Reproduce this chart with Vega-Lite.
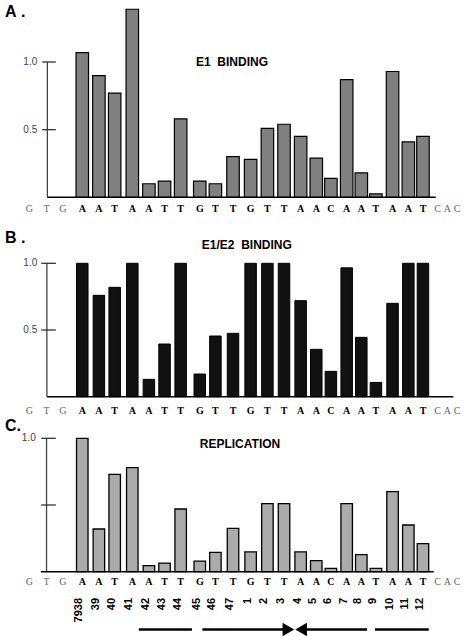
{
  "$schema": "https://vega.github.io/schema/vega-lite/v6.json",
  "padding": 0,
  "spacing": 0,
  "bounds": "flush",
  "config": {"view": {"stroke": null}, "text": {"font": "Liberation Sans"}},
  "datasets": {
    "seq": [
      {"pos": 0.87, "base": "G", "core": false, "site": null, "e1": null, "e1e2": null, "rep": null},
      {"pos": 1.90, "base": "T", "core": false, "site": null, "e1": null, "e1e2": null, "rep": null},
      {"pos": 2.88, "base": "G", "core": false, "site": null, "e1": null, "e1e2": null, "rep": null},
      {"pos": 4.05, "base": "A", "core": true, "site": "7938", "e1": 1.07, "e1e2": 1.0, "rep": 1.0},
      {"pos": 5.05, "base": "A", "core": true, "site": "39", "e1": 0.90, "e1e2": 0.76, "rep": 0.32},
      {"pos": 6.00, "base": "T", "core": true, "site": "40", "e1": 0.77, "e1e2": 0.82, "rep": 0.73},
      {"pos": 7.06, "base": "A", "core": true, "site": "41", "e1": 1.39, "e1e2": 1.0, "rep": 0.78},
      {"pos": 8.06, "base": "A", "core": true, "site": "42", "e1": 0.10, "e1e2": 0.13, "rep": 0.045},
      {"pos": 9.00, "base": "T", "core": true, "site": "43", "e1": 0.12, "e1e2": 0.395, "rep": 0.065},
      {"pos": 9.97, "base": "T", "core": true, "site": "44", "e1": 0.58, "e1e2": 1.0, "rep": 0.47},
      {"pos": 11.12, "base": "G", "core": true, "site": "45", "e1": 0.12, "e1e2": 0.17, "rep": 0.08},
      {"pos": 12.06, "base": "T", "core": true, "site": "46", "e1": 0.10, "e1e2": 0.455, "rep": 0.145},
      {"pos": 13.12, "base": "T", "core": true, "site": "47", "e1": 0.30, "e1e2": 0.475, "rep": 0.325},
      {"pos": 14.18, "base": "G", "core": true, "site": "1", "e1": 0.28, "e1e2": 1.0, "rep": 0.148},
      {"pos": 15.19, "base": "T", "core": true, "site": "2", "e1": 0.51, "e1e2": 1.0, "rep": 0.51},
      {"pos": 16.19, "base": "T", "core": true, "site": "3", "e1": 0.54, "e1e2": 1.0, "rep": 0.51},
      {"pos": 17.19, "base": "A", "core": true, "site": "4", "e1": 0.45, "e1e2": 0.72, "rep": 0.148},
      {"pos": 18.13, "base": "A", "core": true, "site": "5", "e1": 0.29, "e1e2": 0.355, "rep": 0.083},
      {"pos": 19.01, "base": "C", "core": true, "site": "6", "e1": 0.14, "e1e2": 0.19, "rep": 0.025},
      {"pos": 19.96, "base": "A", "core": true, "site": "7", "e1": 0.87, "e1e2": 0.966, "rep": 0.51},
      {"pos": 20.84, "base": "A", "core": true, "site": "8", "e1": 0.18, "e1e2": 0.445, "rep": 0.128},
      {"pos": 21.72, "base": "T", "core": true, "site": "9", "e1": 0.025, "e1e2": 0.107, "rep": 0.025},
      {"pos": 22.72, "base": "A", "core": true, "site": "10", "e1": 0.93, "e1e2": 0.70, "rep": 0.60},
      {"pos": 23.67, "base": "A", "core": true, "site": "11", "e1": 0.41, "e1e2": 1.0, "rep": 0.35},
      {"pos": 24.55, "base": "T", "core": true, "site": "12", "e1": 0.45, "e1e2": 1.0, "rep": 0.21},
      {"pos": 25.43, "base": "C", "core": false, "site": null, "e1": null, "e1e2": null, "rep": null},
      {"pos": 26.02, "base": "A", "core": false, "site": null, "e1": null, "e1e2": null, "rep": null},
      {"pos": 26.61, "base": "C", "core": false, "site": null, "e1": null, "e1e2": null, "rep": null}
    ],
    "ticks2": [{"v": 0.5, "label": "0.5"}, {"v": 1.0, "label": "1.0"}],
    "ticksC": [{"v": 0.5, "label": ""}, {"v": 1.0, "label": "1.0"}],
    "segs": [{"s": 7.45, "e": 10.65}, {"s": 11.28, "e": 16.2}, {"s": 17.5, "e": 21.19}, {"s": 21.66, "e": 24.9}]
  },
  "vconcat": [
    {
      "width": 472, "height": 215,
      "layer": [
        {"data": {"name": "seq"}, "transform": [{"filter": "datum.e1 != null"}],
         "mark": {"type": "bar", "width": 12.5, "fill": "#808080", "stroke": "#000", "strokeWidth": 1.2},
         "encoding": {
           "x": {"field": "pos", "type": "quantitative", "scale": {"domain": [-0.6, 27.2], "nice": false, "zero": false}, "axis": null},
           "y": {"field": "e1", "type": "quantitative", "scale": {"domain": [-0.1308, 1.4583], "nice": false, "zero": false}, "axis": null},
           "y2": {"datum": 0}}},
        {"data": {"values": [{}]}, "mark": {"type": "rule", "color": "#444", "strokeWidth": 1.3},
         "encoding": {"x": {"datum": 1.95, "type": "quantitative"}, "y": {"datum": 0, "type": "quantitative"}, "y2": {"datum": 1.0}}},
        {"data": {"values": [{}]}, "mark": {"type": "rule", "color": "#000", "strokeWidth": 1.5},
         "encoding": {"x": {"datum": 1.95, "type": "quantitative"}, "x2": {"datum": 25.32}, "y": {"datum": 0, "type": "quantitative"}}},
        {"data": {"name": "ticks2"}, "mark": {"type": "rule", "color": "#333", "strokeWidth": 1.3},
         "encoding": {"x": {"datum": 1.64, "type": "quantitative"}, "x2": {"datum": 2.46}, "y": {"field": "v", "type": "quantitative"}}},
        {"data": {"name": "ticks2"}, "mark": {"type": "text", "align": "right", "baseline": "middle", "fontSize": 10, "color": "#444"},
         "encoding": {"x": {"datum": 1.34, "type": "quantitative"}, "y": {"field": "v", "type": "quantitative"}, "text": {"field": "label"}}},
        {"data": {"name": "seq"}, "transform": [{"filter": "!datum.core"}],
         "mark": {"type": "text", "font": "Liberation Serif", "fontSize": 10, "color": "#666", "baseline": "middle"},
         "encoding": {"x": {"field": "pos", "type": "quantitative"}, "y": {"datum": -0.0865, "type": "quantitative"}, "text": {"field": "base"}}},
        {"data": {"name": "seq"}, "transform": [{"filter": "datum.core"}],
         "mark": {"type": "text", "font": "Liberation Serif", "fontSize": 10, "fontWeight": "bold", "color": "#000", "baseline": "middle"},
         "encoding": {"x": {"field": "pos", "type": "quantitative"}, "y": {"datum": -0.0865, "type": "quantitative"}, "text": {"field": "base"}}},
        {"data": {"values": [{}]}, "mark": {"type": "text", "text": "A\u00a0.", "align": "left", "baseline": "middle", "fontSize": 16, "fontWeight": "bold"},
         "encoding": {"x": {"datum": -0.6, "type": "quantitative"}, "y": {"datum": 1.37, "type": "quantitative"}}},
        {"data": {"values": [{}]}, "mark": {"type": "text", "text": "E1\u00a0\u00a0BINDING", "align": "center", "baseline": "middle", "fontSize": 12, "fontWeight": "bold"},
         "encoding": {"x": {"datum": 13.06, "type": "quantitative"}, "y": {"datum": 1.0, "type": "quantitative"}}}
      ]
    },
    {
      "width": 472, "height": 200,
      "layer": [
        {"data": {"name": "seq"}, "transform": [{"filter": "datum.e1e2 != null"}],
         "mark": {"type": "bar", "width": 11.5, "fill": "#111", "stroke": "#000", "strokeWidth": 1},
         "encoding": {
           "x": {"field": "pos", "type": "quantitative", "scale": {"domain": [-0.6, 27.2], "nice": false, "zero": false}, "axis": null},
           "y": {"field": "e1e2", "type": "quantitative", "scale": {"domain": [-0.1372, 1.3621], "nice": false, "zero": false}, "axis": null},
           "y2": {"datum": 0}}},
        {"data": {"values": [{}]}, "mark": {"type": "rule", "color": "#444", "strokeWidth": 1.3},
         "encoding": {"x": {"datum": 1.92, "type": "quantitative"}, "y": {"datum": 0, "type": "quantitative"}, "y2": {"datum": 1.0}}},
        {"data": {"values": [{}]}, "mark": {"type": "rule", "color": "#000", "strokeWidth": 1.5},
         "encoding": {"x": {"datum": 1.92, "type": "quantitative"}, "x2": {"datum": 26.38}, "y": {"datum": 0, "type": "quantitative"}}},
        {"data": {"name": "ticks2"}, "mark": {"type": "rule", "color": "#333", "strokeWidth": 1.3},
         "encoding": {"x": {"datum": 1.58, "type": "quantitative"}, "x2": {"datum": 2.46}, "y": {"field": "v", "type": "quantitative"}}},
        {"data": {"name": "ticks2"}, "mark": {"type": "text", "align": "right", "baseline": "middle", "fontSize": 10, "color": "#444"},
         "encoding": {"x": {"datum": 1.34, "type": "quantitative"}, "y": {"field": "v", "type": "quantitative"}, "text": {"field": "label"}}},
        {"data": {"name": "seq"}, "transform": [{"filter": "!datum.core"}],
         "mark": {"type": "text", "font": "Liberation Serif", "fontSize": 10, "color": "#666", "baseline": "middle"},
         "encoding": {"x": {"field": "pos", "type": "quantitative"}, "y": {"datum": -0.107, "type": "quantitative"}, "text": {"field": "base"}}},
        {"data": {"name": "seq"}, "transform": [{"filter": "datum.core"}],
         "mark": {"type": "text", "font": "Liberation Serif", "fontSize": 10, "fontWeight": "bold", "color": "#000", "baseline": "middle"},
         "encoding": {"x": {"field": "pos", "type": "quantitative"}, "y": {"datum": -0.107, "type": "quantitative"}, "text": {"field": "base"}}},
        {"data": {"values": [{}]}, "mark": {"type": "text", "text": "B\u00a0.", "align": "left", "baseline": "middle", "fontSize": 16, "fontWeight": "bold"},
         "encoding": {"x": {"datum": -0.6, "type": "quantitative"}, "y": {"datum": 1.19, "type": "quantitative"}}},
        {"data": {"values": [{}]}, "mark": {"type": "text", "text": "E1/E2\u00a0\u00a0BINDING", "align": "center", "baseline": "middle", "fontSize": 12, "fontWeight": "bold"},
         "encoding": {"x": {"datum": 13.95, "type": "quantitative"}, "y": {"datum": 1.137, "type": "quantitative"}}}
      ]
    },
    {
      "width": 472, "height": 221,
      "layer": [
        {"data": {"name": "seq"}, "transform": [{"filter": "datum.rep != null"}],
         "mark": {"type": "bar", "width": 11.5, "fill": "#ababab", "stroke": "#000", "strokeWidth": 1.3},
         "encoding": {
           "x": {"field": "pos", "type": "quantitative", "scale": {"domain": [-0.6, 27.2], "nice": false, "zero": false}, "axis": null},
           "y": {"field": "rep", "type": "quantitative", "scale": {"domain": [-0.482, 1.1747], "nice": false, "zero": false}, "axis": null},
           "y2": {"datum": 0}}},
        {"data": {"values": [{}]}, "mark": {"type": "rule", "color": "#444", "strokeWidth": 1.3},
         "encoding": {"x": {"datum": 1.9, "type": "quantitative"}, "y": {"datum": 0, "type": "quantitative"}, "y2": {"datum": 1.0}}},
        {"data": {"values": [{}]}, "mark": {"type": "rule", "color": "#000", "strokeWidth": 1.5},
         "encoding": {"x": {"datum": 1.56, "type": "quantitative"}, "x2": {"datum": 25.2}, "y": {"datum": 0, "type": "quantitative"}}},
        {"data": {"name": "ticksC"}, "mark": {"type": "rule", "color": "#333", "strokeWidth": 1.3},
         "encoding": {"x": {"datum": 1.58, "type": "quantitative"}, "x2": {"datum": 2.46}, "y": {"field": "v", "type": "quantitative"}}},
        {"data": {"name": "ticksC"}, "mark": {"type": "text", "align": "right", "baseline": "middle", "fontSize": 10, "color": "#444"},
         "encoding": {"x": {"datum": 1.25, "type": "quantitative"}, "y": {"field": "v", "type": "quantitative"}, "text": {"field": "label"}}},
        {"data": {"name": "seq"}, "transform": [{"filter": "!datum.core"}],
         "mark": {"type": "text", "font": "Liberation Serif", "fontSize": 10, "color": "#666", "baseline": "middle"},
         "encoding": {"x": {"field": "pos", "type": "quantitative"}, "y": {"datum": -0.075, "type": "quantitative"}, "text": {"field": "base"}}},
        {"data": {"name": "seq"}, "transform": [{"filter": "datum.core"}],
         "mark": {"type": "text", "font": "Liberation Serif", "fontSize": 10, "fontWeight": "bold", "color": "#000", "baseline": "middle"},
         "encoding": {"x": {"field": "pos", "type": "quantitative"}, "y": {"datum": -0.075, "type": "quantitative"}, "text": {"field": "base"}}},
        {"data": {"name": "seq"}, "transform": [{"filter": "datum.site != null"}],
         "mark": {"type": "text", "angle": 270, "align": "right", "baseline": "middle", "dy": -3, "fontSize": 11, "fontWeight": "bold", "color": "#000"},
         "encoding": {"x": {"field": "pos", "type": "quantitative"}, "y": {"datum": -0.197, "type": "quantitative"}, "text": {"field": "site"}}},
        {"data": {"name": "segs"}, "mark": {"type": "rule", "color": "#000", "strokeWidth": 2.6},
         "encoding": {"x": {"field": "s", "type": "quantitative"}, "x2": {"field": "e"}, "y": {"datum": -0.433, "type": "quantitative"}}},
        {"data": {"values": [{}]}, "mark": {"type": "point", "shape": "triangle-right", "size": 180, "filled": true, "color": "#000", "opacity": 1},
         "encoding": {"x": {"datum": 16.45, "type": "quantitative"}, "y": {"datum": -0.433, "type": "quantitative"}}},
        {"data": {"values": [{}]}, "mark": {"type": "point", "shape": "triangle-left", "size": 180, "filled": true, "color": "#000", "opacity": 1},
         "encoding": {"x": {"datum": 17.22, "type": "quantitative"}, "y": {"datum": -0.433, "type": "quantitative"}}},
        {"data": {"values": [{}]}, "mark": {"type": "text", "text": "C.", "align": "left", "baseline": "middle", "fontSize": 16, "fontWeight": "bold"},
         "encoding": {"x": {"datum": -0.6, "type": "quantitative"}, "y": {"datum": 1.092, "type": "quantitative"}}},
        {"data": {"values": [{}]}, "mark": {"type": "text", "text": "REPLICATION", "align": "center", "baseline": "middle", "fontSize": 12, "fontWeight": "bold"},
         "encoding": {"x": {"datum": 13.54, "type": "quantitative"}, "y": {"datum": 0.957, "type": "quantitative"}}}
      ]
    }
  ]
}
